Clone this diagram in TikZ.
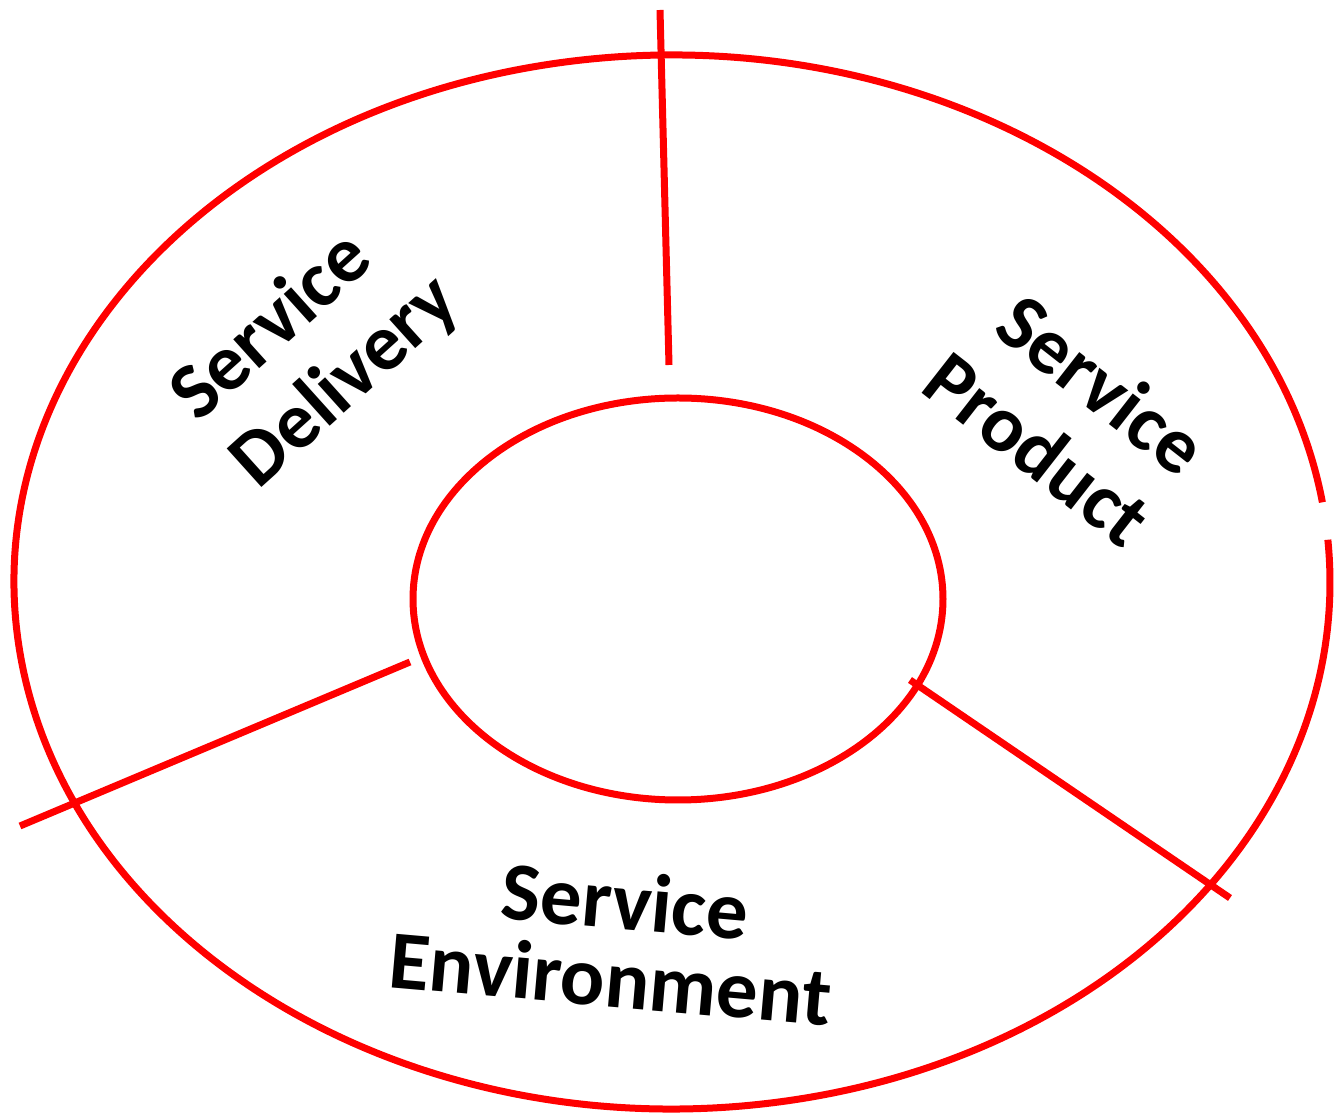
\documentclass[tikz,border=0pt]{standalone}
\usepackage{fontspec}
\setmainfont{Carlito}
\begin{document}
\begin{tikzpicture}[x=0.5pt,y=0.5pt,
  ring/.style={draw=red, line width=3.5pt},
  spoke/.style={draw=red, line width=3.5pt},
  lbl/.style={font=\fontsize{40}{45}\selectfont\bfseries, text=black, inner sep=0pt}]
\useasboundingbox (0,0) rectangle (1341,1115);
% outer ring with small gap on the right
\coordinate (oc) at (672,533);
\draw[ring] (oc) ++(8.7:329pt and 263.5pt) arc[start angle=8.7, end angle=364.6, x radius=329pt, y radius=263.5pt];
% inner ring
\coordinate (ic) at (678,516);
\draw[ring] (ic) ellipse[x radius=132.5pt, y radius=100.5pt];
% spokes
\coordinate (t1) at (660,1105); \coordinate (t2) at (669,750);
\coordinate (l1) at (410,453);  \coordinate (l2) at (20,289);
\coordinate (r1) at (910,435);  \coordinate (r2) at (1230,217);
\draw[spoke] (t1) -- (t2);
\draw[spoke] (l1) -- (l2);
\draw[spoke] (r1) -- (r2);
% labels
\node[lbl, align=left, rotate=42] (del) at (316,766) {Service\\Delivery};
\node[lbl, align=right, rotate=-38] (prod) at (1066,702) {Service\\Product};
\node[lbl, align=center, rotate=-5, font=\fontsize{41.5}{39}\selectfont\bfseries] (env) at (614,176) {\hspace*{8pt}Service\\Environment};
\end{tikzpicture}
\end{document}
